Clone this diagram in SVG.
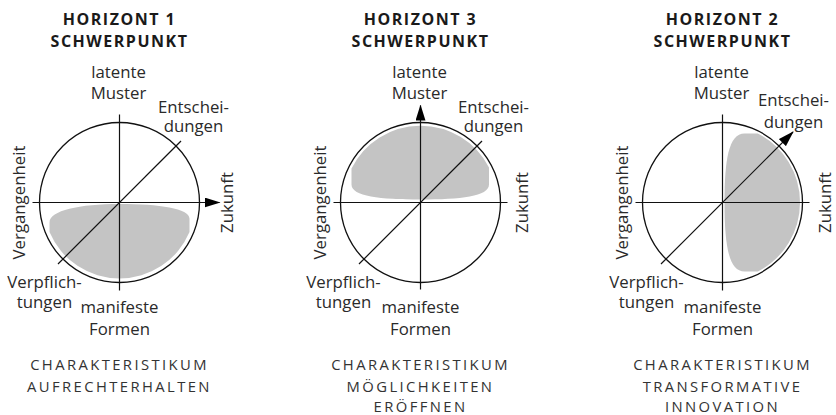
<svg xmlns="http://www.w3.org/2000/svg" width="836" height="415" viewBox="0 0 836 415">
<style>
.bg{fill:#ffffff}
.title{font-family:"Open Sans","DejaVu Sans",sans-serif;font-weight:700;font-size:16px;letter-spacing:1.5px;fill:#1a1a1a;text-anchor:middle}
.lbl{font-family:"Open Sans","DejaVu Sans",sans-serif;font-weight:400;font-size:16.8px;fill:#2a2a2a;text-anchor:middle}
.cap{font-family:"Open Sans","DejaVu Sans",sans-serif;font-weight:400;font-size:14.8px;letter-spacing:2.4px;fill:#333;text-anchor:middle}
.ring{fill:none;stroke:#111;stroke-width:1.3}
.ax{fill:none;stroke:#111;stroke-width:1.2}
.blob{fill:#c4c4c4;stroke:none}
</style>
<defs>
<marker id="ah" markerUnits="userSpaceOnUse" markerWidth="16" markerHeight="10" refX="15" refY="5" orient="auto">
<path d="M0,0 L16,5 L0,10 Z" fill="#000"/>
</marker>
</defs>
<rect class="bg" width="836" height="415"/>

<g id="panel-h1" transform="translate(119.5,202.5)">
<text class="title" x="0" y="-177.5">HORIZONT 1</text>
<text class="title" x="0" y="-156">SCHWERPUNKT</text>
<path class="blob" d="M -70,20 C -70,8 -40,1.5 0,1.5 C 40,1.5 70,6 70,16 L 70,29.6 A 76 76 0 0 1 -70,29.6 Z"/>
<circle class="ring" cx="0" cy="0" r="80"/>
<text class="lbl" x="-1" y="-124.5">latente</text>
<text class="lbl" x="-1" y="-103.5">Muster</text>
<text class="lbl" x="74" y="-90">Entschei-</text>
<text class="lbl" x="74" y="-71">dungen</text>
<text class="lbl" x="-75" y="85">Verpflich-</text>
<text class="lbl" x="-75" y="105">tungen</text>
<text class="lbl" x="0" y="110.5">manifeste</text>
<text class="lbl" x="0" y="132.5">Formen</text>
<text class="lbl" transform="translate(-94.5,0) rotate(-90)" x="0" y="0">Vergangenheit</text>
<text class="lbl" transform="translate(113.8,0) rotate(-90)" x="0" y="0">Zukunft</text>
<text class="cap" x="0" y="167.5">CHARAKTERISTIKUM</text>
<text class="cap" x="0" y="189.8">AUFRECHTERHALTEN</text>
</g>

<g id="panel-h3" transform="translate(420.5,202.5)">
<text class="title" x="0" y="-177.5">HORIZONT 3</text>
<text class="title" x="0" y="-156">SCHWERPUNKT</text>
<path class="blob" d="M -69,-18 L -69,-34 A 77 77 0 0 1 68.5,-35 L 68.5,-18 C 68.5,-6 40,-3 0,-3 C -40,-3 -69,-6 -69,-18 Z"/>
<circle class="ring" cx="0" cy="0" r="80"/>
<text class="lbl" x="-1" y="-124.5">latente</text>
<text class="lbl" x="-1" y="-103.5">Muster</text>
<text class="lbl" x="73" y="-90">Entschei-</text>
<text class="lbl" x="73" y="-71">dungen</text>
<text class="lbl" x="-77" y="85">Verpflich-</text>
<text class="lbl" x="-77" y="105">tungen</text>
<text class="lbl" x="0" y="110.5">manifeste</text>
<text class="lbl" x="0" y="132.5">Formen</text>
<text class="lbl" transform="translate(-94.5,0) rotate(-90)" x="0" y="0">Vergangenheit</text>
<text class="lbl" transform="translate(107.5,0) rotate(-90)" x="0" y="0">Zukunft</text>
<text class="cap" x="0" y="167.5">CHARAKTERISTIKUM</text>
<text class="cap" x="0" y="189.8">MÖGLICHKEITEN</text>
<text class="cap" x="0" y="209.5">ERÖFFNEN</text>
</g>

<g id="panel-h2" transform="translate(722.5,202.5)">
<text class="title" x="0" y="-177.5">HORIZONT 2</text>
<text class="title" x="0" y="-156">SCHWERPUNKT</text>
<path class="blob" d="M 2,0 C 2,-42 6,-69 22,-69 L 35.3,-69 A 77.5 77.5 0 0 1 35.3,69 L 22,69 C 6,69 2,42 2,0 Z"/>
<circle class="ring" cx="0" cy="0" r="80"/>
<text class="lbl" x="-1" y="-124.5">latente</text>
<text class="lbl" x="-1" y="-103.5">Muster</text>
<text class="lbl" x="71" y="-96.5">Entschei-</text>
<text class="lbl" x="71" y="-75">dungen</text>
<text class="lbl" x="-76" y="85">Verpflich-</text>
<text class="lbl" x="-76" y="105">tungen</text>
<text class="lbl" x="0" y="110.5">manifeste</text>
<text class="lbl" x="0" y="132.5">Formen</text>
<text class="lbl" transform="translate(-94.5,0) rotate(-90)" x="0" y="0">Vergangenheit</text>
<text class="lbl" transform="translate(108.3,0) rotate(-90)" x="0" y="0">Zukunft</text>
<text class="cap" x="0" y="167.5">CHARAKTERISTIKUM</text>
<text class="cap" x="0" y="189.8">TRANSFORMATIVE</text>
<text class="cap" x="0" y="209.5">INNOVATION</text>
</g>

<g id="connectors">
<g transform="translate(119.5,202.5)">
<line class="ax" x1="-87" y1="0" x2="100" y2="0" marker-end="url(#ah)"/>
<line class="ax" x1="0" y1="-88" x2="0" y2="88"/>
<line class="ax" x1="-61.5" y1="61.5" x2="61.5" y2="-61.5"/>
</g>
<g transform="translate(420.5,202.5)">
<line class="ax" x1="-87" y1="0" x2="87" y2="0"/>
<line class="ax" x1="0" y1="87" x2="0" y2="-97" marker-end="url(#ah)"/>
<line class="ax" x1="-61.5" y1="61.5" x2="61.5" y2="-61.5"/>
</g>
<g transform="translate(722.5,202.5)">
<line class="ax" x1="-87" y1="0" x2="87" y2="0"/>
<line class="ax" x1="0" y1="-88" x2="0" y2="88"/>
<line class="ax" x1="-61.5" y1="61.5" x2="70.5" y2="-70.5" marker-end="url(#ah)"/>
</g>
</g>
</svg>
